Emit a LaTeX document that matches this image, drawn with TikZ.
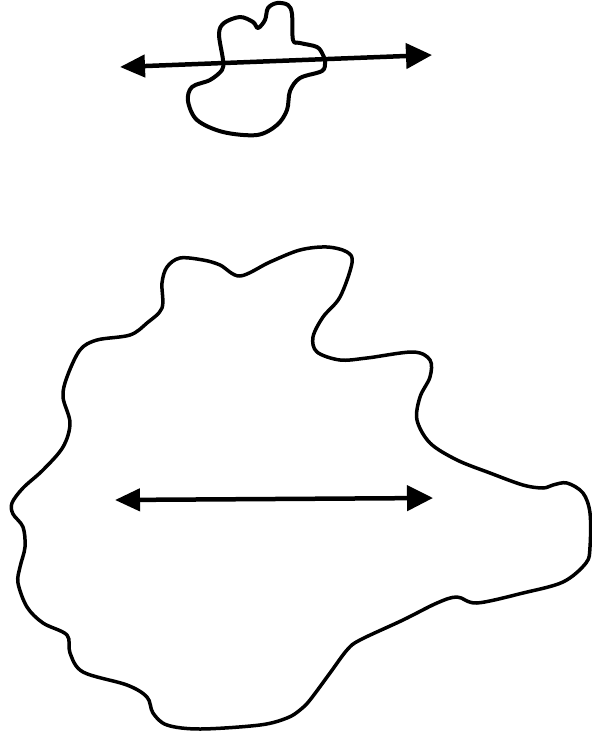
\documentclass[tikz,border=0pt]{standalone}
\usepackage{tikz}
\usetikzlibrary{arrows.meta}

\begin{document}
\begin{tikzpicture}[
  x=1pt, y=-1pt,
  contour/.style={
    draw=black, line width=3.5pt, line join=round,
    smooth cycle, tension=0.55
  },
  fleche/.style={
    arrows={Triangle[length=25pt, width=22pt]-Triangle[length=26pt, width=25pt]},
    draw=black, line width=4.5pt
  }
]
\useasboundingbox (0,0) rectangle (592,740);

% ----- Petite tache -----
\draw[contour, line width=4pt] plot coordinates {
  (223,60) (219,34) (224,23) (240,17) (253,22) (258,28) (265,20)
  (268,8) (277,3) (288,5) (292,14) (293,40) (300,43) (317,47)
  (323,55) (325,62) (322,71) (300,78) (290,91) (287,110) (277,125)
  (257,135) (223,132) (197,120) (188,101) (192,87) (210,80) (222,70)};

% ----- Grande tache -----
\draw[contour] plot coordinates {
  (352,263) (347,252) (327,247) (300,250) (270,262) (240,276)
  (220,265) (203,260) (180,258) (167,267) (162,283) (162,308)
  (147,323) (130,335) (97,340) (80,350) (67,377) (63,397)
  (70,423) (63,447) (43,470) (23,488) (12,503) (13,514)
  (23,527) (25,547) (20,567) (18,583) (27,607) (43,623)
  (67,635) (70,653) (83,672) (127,685) (147,697) (153,713)
  (167,725) (200,729) (260,725) (287,718) (300,710) (310,700)
  (330,673) (347,650) (360,640) (403,620) (437,603) (457,597)
  (477,603) (523,593) (563,582) (586,563) (590,547) (590,513)
  (583,493) (567,483) (553,485) (543,488) (523,485) (490,473)
  (457,460) (430,443) (417,420) (420,397) (430,377) (430,360)
  (413,352) (367,358) (340,360) (317,352) (313,337) (323,317)
  (340,297)};

% ----- Fleches -----
\coordinate (petitG) at (120,67);
\coordinate (petitD) at (432,55);
\coordinate (grandG) at (115,500);
\coordinate (grandD) at (433,498);

\draw[fleche] (petitG) -- (petitD);
\draw[fleche] (grandG) -- (grandD);

\end{tikzpicture}
\end{document}
